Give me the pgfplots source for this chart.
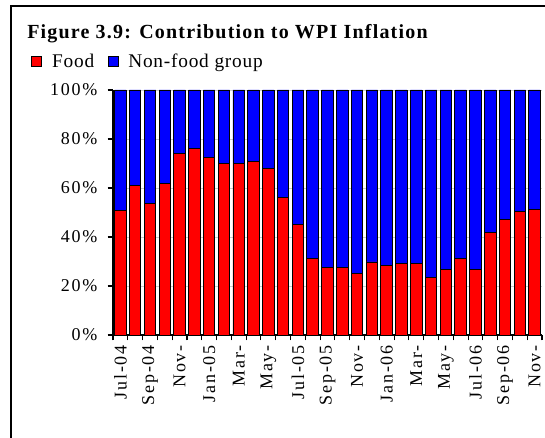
\documentclass[border=0pt]{standalone}
\usepackage{pgfplots}
\pgfplotsset{compat=1.18}
\usepackage{pgfplotstable}
\usepackage{fontspec}
\setmainfont{Liberation Serif}
\newfontfamily\titlefont[LetterSpace=6]{Liberation Serif}
\newfontfamily\legfont[LetterSpace=4]{Liberation Serif}
\newfontfamily\tickfont[LetterSpace=10]{Liberation Serif}

\pgfplotstableread{
x food nonfood
0 51.0 49.0
1 61.0 39.0
2 53.5 46.5
3 61.8 38.2
4 74.0 26.0
5 76.3 23.7
6 72.5 27.5
7 70.2 29.8
8 70.2 29.8
9 70.9 29.1
10 68.0 32.0
11 56.0 44.0
12 45.1 54.9
13 31.3 68.7
14 27.5 72.5
15 27.4 72.6
16 25.1 74.9
17 29.8 70.2
18 28.2 71.8
19 29.0 71.0
20 29.0 71.0
21 23.6 76.4
22 26.7 73.3
23 31.3 68.7
24 26.7 73.3
25 41.9 58.1
26 47.3 52.7
27 50.4 49.6
28 51.1 48.9
}\datatable

\begin{document}
\begin{tikzpicture}
\path[use as bounding box] (0,0) rectangle (408.75pt,328.5pt);
\draw[line width=1.3pt] (8.25pt,-2pt) -- (8.25pt,324pt) -- (412pt,324pt);
\node[anchor=base west, inner sep=0pt, font=\titlefont\fontsize{15}{18}\selectfont\bfseries] at (20.25pt,299.5pt) {Figure 3.9: Contribution to WPI Inflation};
\begin{axis}[
  at={(84.75pt,77.25pt)}, anchor=south west,
  scale only axis, width=321.75pt, height=183.75pt,
  ybar stacked, bar width=0.78,
  xmin=-0.5, xmax=28.5, ymin=0, ymax=100,
  clip=false,
  axis x line*=bottom, axis y line*=left,
  axis line style={line width=0.9pt, -},
  ytick={0,20,40,60,80,100},
  yticklabels={0\%,20\%,40\%,60\%,80\%,100\%},
  ymajorgrids, grid style={gray!40, line width=0.5pt},
  xtick={-0.5,0.5,1.5,2.5,3.5,4.5,5.5,6.5,7.5,8.5,9.5,10.5,11.5,12.5,13.5,14.5,15.5,16.5,17.5,18.5,19.5,20.5,21.5,22.5,23.5,24.5,25.5,26.5,27.5,28.5},
  xticklabels={Jul-04,{},Sep-04,{},Nov-,{},Jan-05,{},Mar-,{},May-,{},Jul-05,{},Sep-05,{},Nov-,{},Jan-06,{},Mar-,{},May-,{},Jul-06,{},Sep-06,{},Nov-,{}},
  tick align=outside, major tick length=4pt,
  tick style={black, line width=0.8pt},
  xticklabel style={font=\tickfont\fontsize{13.5}{15}\selectfont, xshift=5.55pt, yshift=-3.5pt, rotate=90, anchor=east, inner sep=0pt},
  yticklabel style={font=\tickfont\fontsize{13.5}{15}\selectfont, inner sep=0pt, xshift=-7.5pt},
  legend style={at={(-0.191,1.16)}, anchor=north west, draw=none, fill=none, inner sep=0pt,
    legend columns=-1, font=\legfont\fontsize{14.5}{16}\selectfont,
    /tikz/every odd column/.append style={column sep=5.5pt},
    /tikz/every even column/.append style={column sep=8pt}},
  legend image code/.code={\draw[#1, line width=0.6pt] (0pt,-3.5pt) rectangle (7.5pt,4pt);},
]
\addplot[fill=red, draw=black, line width=0.7pt] table[x=x,y=food]{\datatable};
\addplot[fill=blue, draw=black, line width=0.7pt] table[x=x,y=nonfood]{\datatable};
\legend{Food, Non-food group}
\end{axis}
\end{tikzpicture}
\end{document}
